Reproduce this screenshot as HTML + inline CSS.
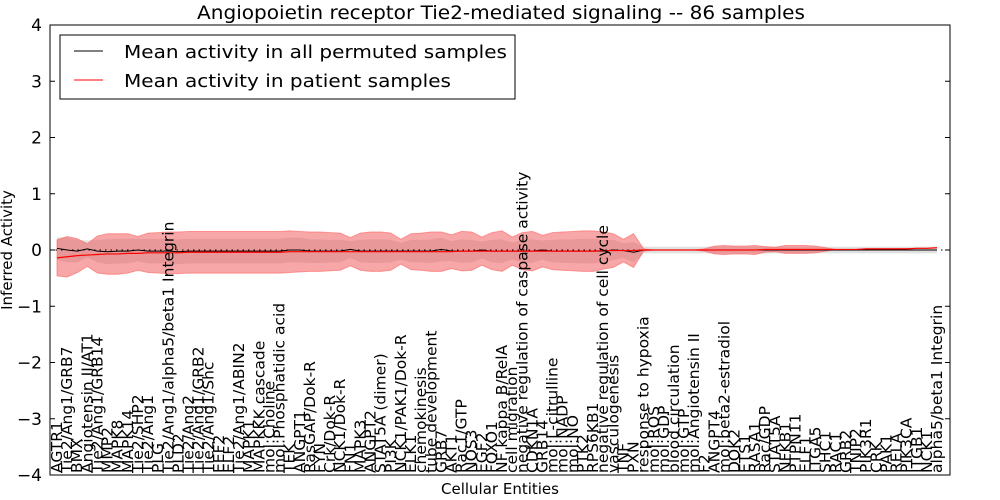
<!DOCTYPE html>
<html><head><meta charset="utf-8"><style>
body{margin:0;background:#fff;}
svg{display:block;font-family:"DejaVu Sans","Liberation Sans",sans-serif;}
</style></head><body>
<svg id="chart" width="1000" height="500">
<rect width="1000" height="500" fill="#fff"/>
<text x="197" y="19" font-size="19" textLength="608" lengthAdjust="spacingAndGlyphs">Angiopoietin receptor Tie2-mediated signaling -- 86 samples</text>
<g id="bands"></g>
<g id="lines"></g>
<g id="axes"></g>
<g id="xlabels"></g>
<text x="500" y="494" text-anchor="middle" font-size="15">Cellular Entities</text>
<text transform="translate(12,250) rotate(-90)" text-anchor="middle" font-size="15">Inferred Activity</text>
<g>
<rect x="60" y="35" width="455" height="64" fill="#fff" stroke="#000" stroke-width="1"/>
<line x1="74" y1="51" x2="103" y2="51" stroke="#000" stroke-width="1"/>
<text x="124" y="58" font-size="18" textLength="383" lengthAdjust="spacingAndGlyphs">Mean activity in all permuted samples</text>
<line x1="74" y1="80" x2="103" y2="80" stroke="#f00" stroke-width="1"/>
<text x="124" y="87" font-size="18" textLength="327" lengthAdjust="spacingAndGlyphs">Mean activity in patient samples</text>
</g>
</svg>
<script>
const labels=["AGTR1","Tie2/Ang1/GRB7","BMX","Angiotensin II/AT1","Tie2/Ang1/GRB14","MMP2","MAPK8","MAPK14","Tie2/SHP2","Tie2/Ang1","PLG","Tie2/Ang1/alpha5/beta1 Integrin","PLD2","Tie2/Ang2","Tie2/Ang1/GRB2","Tie2/Ang1/Shc","EEF2","ELF2","Tie2/Ang1/ABIN2","MAPK1","MAPKKK cascade","mol:Choline","mol:Phosphatidic acid","TEK","ANGPT1","RasGAP/Dok-R","FYN","Crk/Dok-R","NCK1/Dok-R","FN1","MAPK3","ANGPT2","STAT5A (dimer)","PI3K","NCK1/PAK1/Dok-R","ELK1","chemokinesis","tube development","GRB7","AKT1","Rac1/GTP","NOS3","EGF2","FOXO1","NF kappa B/RelA","cell migration","negative regulation of caspase activity","CDKN1A","GRB14","mol:L-citrulline","mol:NADP","mol:NO","PTK2","RPS6KB1","negative regulation of cell cycle","vasculogenesis","TNF","PXN","response to hypoxia","mol:ROS","mol:GDP","blood circulation","mol:GTP","mol:Angiotensin II","F2","ANGPT4","mol:beta2-estradiol","DOK2","ETS1","RASA1","Rac/GDP","STAT5A","NFKB1","PTPN11","ELF1","ITGA5","SHC1","RAC1","GRB2","TNIP2","PIK3R1","CRK","PAK1","RELA","PIK3CA","ITGB1","NCK1","alpha5/beta1 Integrin"];
const permMean=[0.03,0.0,-0.02,0.02,-0.02,-0.03,-0.02,-0.02,0.0,-0.02,-0.02,-0.02,-0.03,-0.02,-0.02,-0.02,-0.02,-0.02,-0.02,-0.02,-0.02,-0.02,-0.02,0.0,0.0,-0.02,-0.02,-0.02,-0.02,0.01,-0.02,-0.02,-0.02,-0.02,-0.02,-0.02,-0.02,-0.02,0.01,-0.02,-0.02,-0.02,0.0,-0.02,-0.02,-0.02,-0.02,-0.02,0.0,-0.02,-0.02,-0.02,-0.02,-0.02,-0.02,0.0,-0.01,-0.04,0.0,0.0,0.0,0.0,0.0,0.0,0.0,0.0,0.0,0.0,0.0,0.0,0.0,0.0,0.0,0.0,0.0,0.0,0.0,0.0,0.0,0.0,0.0,0.0,0.0,0.0,0.0,0.0,0.0,0.0];
const patientMean=[-0.14,-0.12,-0.1,-0.09,-0.08,-0.07,-0.07,-0.06,-0.06,-0.05,-0.05,-0.05,-0.05,-0.04,-0.04,-0.04,-0.04,-0.04,-0.04,-0.04,-0.04,-0.04,-0.04,-0.03,-0.03,-0.03,-0.03,-0.03,-0.03,-0.03,-0.03,-0.03,-0.03,-0.03,-0.03,-0.03,-0.03,-0.03,-0.03,-0.03,-0.02,-0.02,-0.02,-0.02,-0.02,-0.02,-0.02,-0.02,-0.02,-0.02,-0.02,-0.02,-0.02,-0.02,-0.01,-0.01,-0.01,-0.01,0.0,0.0,0.0,0.0,0.0,0.0,0.0,0.0,0.0,0.0,0.0,0.0,0.01,0.01,0.01,0.01,0.01,0.01,0.01,0.01,0.01,0.01,0.02,0.02,0.02,0.02,0.02,0.03,0.03,0.04];
const patientSd=[0.32,0.36,0.3,0.2,0.33,0.36,0.36,0.35,0.3,0.35,0.36,0.37,0.37,0.37,0.37,0.37,0.37,0.37,0.37,0.37,0.37,0.37,0.37,0.37,0.36,0.35,0.35,0.34,0.33,0.25,0.33,0.35,0.35,0.33,0.22,0.32,0.33,0.35,0.35,0.3,0.35,0.34,0.25,0.33,0.36,0.25,0.33,0.35,0.28,0.33,0.34,0.35,0.36,0.36,0.33,0.3,0.2,0.3,0.02,0,0,0,0,0,0.02,0.07,0.08,0.07,0.07,0.08,0.05,0.04,0.07,0.07,0.07,0.06,0.03,0,0,0,0,0,0,0,0,0,0,0];
const permSd=[0.2,0.22,0.2,0.15,0.2,0.22,0.22,0.22,0.2,0.22,0.22,0.22,0.22,0.22,0.22,0.22,0.22,0.22,0.22,0.22,0.22,0.22,0.22,0.22,0.22,0.21,0.21,0.2,0.2,0.15,0.2,0.21,0.21,0.2,0.15,0.2,0.2,0.21,0.21,0.18,0.21,0.2,0.15,0.2,0.21,0.15,0.2,0.21,0.17,0.2,0.21,0.21,0.22,0.22,0.2,0.18,0.13,0.18,0.06,0.06,0.06,0.06,0.06,0.06,0.06,0.06,0.06,0.06,0.06,0.06,0.06,0.06,0.06,0.06,0.06,0.06,0.06,0.06,0.06,0.06,0.06,0.06,0.06,0.06,0.06,0.06,0.06,0.06];
const yTicks=[-4,-3,-2,-1,0,1,2,3,4];

const NS="http://www.w3.org/2000/svg";
const L=50,R=950,T=25,B=475,ymin=-4,ymax=4;
const n=labels.length;
const xs=i=>57+i*(880/(n-1));
const ys=v=>B-(v-ymin)/(ymax-ymin)*(B-T);
function mk(tag,attrs,parent){const e=document.createElementNS(NS,tag);for(const k in attrs)e.setAttribute(k,attrs[k]);parent.appendChild(e);return e;}
function bandPath(mean,sd){let up=[],dn=[];for(let i=0;i<n;i++){up.push(xs(i)+','+ys(mean[i]+sd[i]));dn.unshift(xs(i)+','+ys(mean[i]-sd[i]));}return 'M'+up.join('L')+'L'+dn.join('L')+'Z';}
const bands=document.getElementById('bands');
const pb=mk('path',{d:bandPath(permMean,permSd),fill:'#c8c8c8','fill-opacity':'0.55',stroke:'none'},bands);


const rb=mk('path',{d:bandPath(patientMean,patientSd),fill:'#f05050','fill-opacity':'0.5',stroke:'#ff6060','stroke-opacity':'0.6','stroke-width':'1'},bands);


const lines=document.getElementById('lines');
const zl=mk('line',{x1:L,x2:R,y1:ys(0),y2:ys(0),stroke:'#000','stroke-dasharray':'1.5,4','stroke-width':'1'},lines);


const lp=(m)=>m.map((v,i)=>(i?'L':'M')+xs(i)+','+ys(v)).join('');
const bl=mk('path',{d:lp(permMean),fill:'none',stroke:'#000','stroke-width':'1'},lines);


const rl=mk('path',{d:lp(patientMean),fill:'none',stroke:'#f00','stroke-width':'1.2'},lines);


const axes=document.getElementById('axes');
const fr=mk('rect',{x:L,y:T,width:R-L,height:B-T,fill:'none',stroke:'#000','stroke-width':'1'},axes);


yTicks.forEach(v=>{const y=ys(v);
mk('line',{x1:L,x2:L+5,y1:y,y2:y,stroke:'#000'},axes);
mk('line',{x1:R-5,x2:R,y1:y,y2:y,stroke:'#000'},axes);
const t=mk('text',{x:L-8,y:y+6,'text-anchor':'end','font-size':'17'},axes);
t.textContent=v<0?'\u2212'+Math.abs(v):String(v);

});
const xl=document.getElementById('xlabels');
labels.forEach((s,i)=>{const x=xs(i)+5;
const t=mk('text',{transform:'translate('+x+',473) rotate(-90)','font-size':'15.5'},xl);
t.textContent=s;

});
</script>
</body></html>
